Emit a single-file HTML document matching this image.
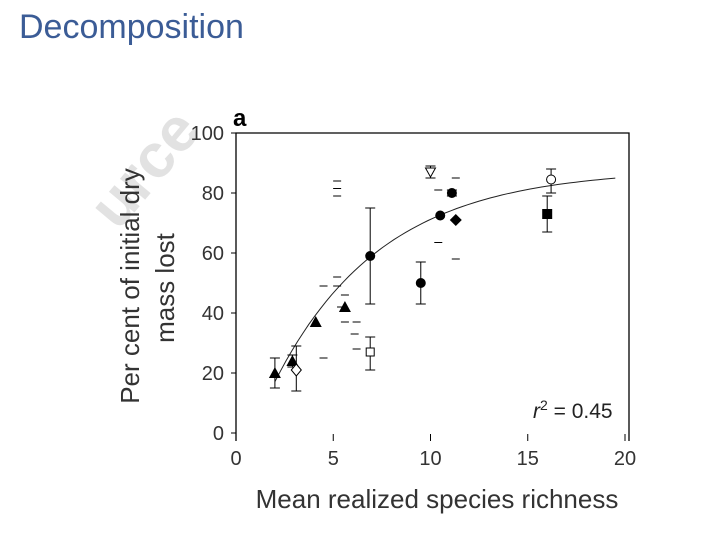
<!DOCTYPE html>
<html><head><meta charset="utf-8"><style>
html,body{margin:0;padding:0;background:#fff;width:720px;height:540px;overflow:hidden}
svg{display:block;font-family:"Liberation Sans",sans-serif}
</style></head><body>
<svg id="chart" width="720" height="540" viewBox="0 0 720 540">
<text x="19" y="38" font-size="34" fill="#3b5c96">Decomposition</text>
<g id="wm" fill="#e2e2e2">
<text x="0" y="0" font-size="62" font-weight="bold" transform="translate(118,232) rotate(-50)">urce</text>
</g>
<text x="233" y="126" font-size="24" font-weight="bold" fill="#000">a</text>
<g id="axes"></g>
<g id="marks"></g>
<text x="533" y="418" font-size="21" fill="#222"><tspan font-style="italic">r</tspan><tspan dy="-8" font-size="14">2</tspan><tspan dy="8"> = 0.45</tspan></text>
<text font-size="26" fill="#333" text-anchor="middle" transform="translate(139,286) rotate(-90)">Per cent of initial dry</text>
<text font-size="26" fill="#333" text-anchor="middle" transform="translate(174,288) rotate(-90)">mass lost</text>
<text x="437" y="508" font-size="26" fill="#333" text-anchor="middle">Mean realized species richness</text>
</svg>
<script>
const xTicks=[0,5,10,15,20];
const yTicks=[0,20,40,60,80,100];
const pointX=[2,2.9,3.1,4.1,5.6,6.9,6.9,9.5,10.0,10.5,11.1,11.3,16.0,16.2];
const pointY=[20,24,21,37,42,59,27,50,87,72.5,80,71,73,84.5];
const errLow=[15,22,14,37,42,43,21,43,85,72.5,79,71,67,80];
const errHigh=[25,26,29,37,42,75,32,57,89,72.5,81,71,79,88];
const shapes=["tri","tri","diamond-open","tri","tri","circle","square-open","circle","tri-down-open","circle","circle","diamond","square","circle-open"];
const dashX=[5.2,5.2,5.2,4.5,5.2,5.2,5.6,5.4,5.6,6.2,6.2,6.1,4.5,10.4,10.4,11.3,11.3];
const dashY=[79,81.5,84,49,52,49,46,42,37,37,28,33,25,81,63.5,85,58];
const curveAmp=88, curveRate=0.18, curveShift=0.8, curveStart=2, curveEnd=19.5;

const X0=236,X1=625,Y0=433,Y1=133;
const sx=v=>X0+(v-0)/(20-0)*(X1-X0);
const sy=v=>Y0-(v-0)/(100-0)*(Y0-Y1);
const NS="http://www.w3.org/2000/svg";
function mk(tag,attrs,parent){const e=document.createElementNS(NS,tag);for(const k in attrs)e.setAttribute(k,attrs[k]);parent.appendChild(e);return e;}
const axes=document.getElementById('axes'), marks=document.getElementById('marks');
let fr=mk('path',{d:`M${X0},${Y0+8} V${Y1} H629 V${Y0+8}`,fill:'none',stroke:'#000','stroke-width':1.3},axes);


yTicks.forEach(t=>{
  const l=mk('line',{x1:X0-5,x2:X0,y1:sy(t),y2:sy(t),stroke:'#000'},axes);
  
  
  const tx=mk('text',{x:X0-12,y:sy(t)+7,'font-size':20,fill:'#333','text-anchor':'end'},axes);
  tx.textContent=t;
  
  
});
xTicks.forEach(t=>{
  const l=mk('line',{x1:sx(t),x2:sx(t),y1:Y0+1,y2:Y0+8,stroke:'#000'},axes);
  
  
  const tx=mk('text',{x:sx(t),y:Y0+32,'font-size':20,fill:'#333','text-anchor':'middle'},axes);
  tx.textContent=t;
  
  
});
let d='';
for(let i=0;i<=60;i++){const x=curveStart+(curveEnd-curveStart)*i/60;const y=curveAmp*(1-Math.exp(-curveRate*(x-curveShift)));d+=(i?'L':'M')+sx(x).toFixed(1)+','+sy(y).toFixed(1);}
const cv=mk('path',{d:d,fill:'none',stroke:'#222','stroke-width':1},marks);


dashX.forEach((x,i)=>{
  const l=mk('line',{x1:sx(x)-4,x2:sx(x)+4,y1:sy(dashY[i]),y2:sy(dashY[i]),stroke:'#000','stroke-width':1},marks);
  
  
});
pointX.forEach((x,i)=>{
  const cx=sx(x),cy=sy(pointY[i]);
  const g=mk('g',{},marks);
  
  
  if(errHigh[i]!==errLow[i]){
    const a=sy(errHigh[i]),b=sy(errLow[i]);
    mk('path',{d:`M${cx},${a}V${b}M${cx-5},${a}H${cx+5}M${cx-5},${b}H${cx+5}`,stroke:'#000',fill:'none','stroke-width':1},g);
  }
  const s=shapes[i];
  if(s==='tri')mk('path',{d:`M${cx},${cy-6}L${cx+6},${cy+5}L${cx-6},${cy+5}Z`,fill:'#000'},g);
  else if(s==='tri-down-open')mk('path',{d:`M${cx-5},${cy-4}L${cx+5},${cy-4}L${cx},${cy+5}Z`,fill:'#fff',stroke:'#000'},g);
  else if(s==='circle')mk('circle',{cx:cx,cy:cy,r:5,fill:'#000'},g);
  else if(s==='circle-open')mk('circle',{cx:cx,cy:cy,r:4.5,fill:'#fff',stroke:'#000'},g);
  else if(s==='square')mk('rect',{x:cx-5,y:cy-5,width:10,height:10,fill:'#000'},g);
  else if(s==='square-open')mk('rect',{x:cx-4,y:cy-4,width:8,height:8,fill:'#fff',stroke:'#000'},g);
  else if(s==='diamond')mk('path',{d:`M${cx},${cy-6}L${cx+6},${cy}L${cx},${cy+6}L${cx-6},${cy}Z`,fill:'#000'},g);
  else if(s==='diamond-open')mk('path',{d:`M${cx},${cy-6}L${cx+5},${cy}L${cx},${cy+6}L${cx-5},${cy}Z`,fill:'#fff',stroke:'#000'},g);
});
</script>
</body></html>
